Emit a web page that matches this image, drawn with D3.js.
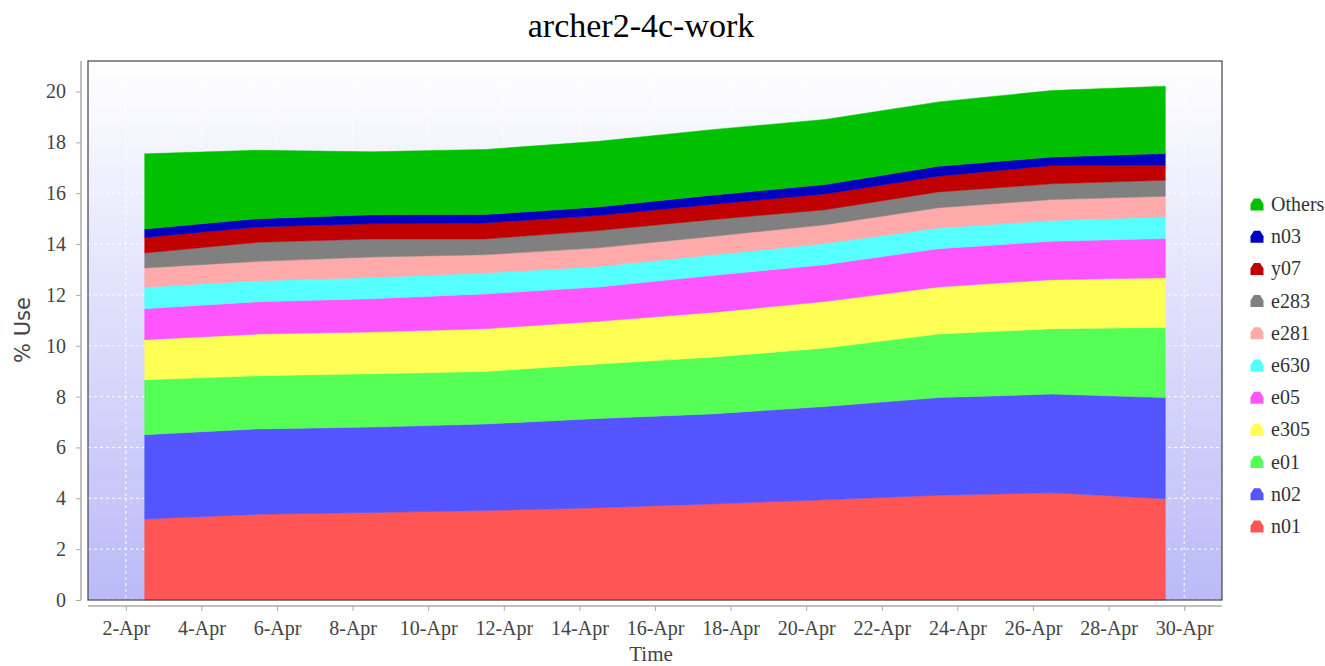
<!DOCTYPE html>
<html>
<head>
<meta charset="utf-8">
<script src="https://cdn.jsdelivr.net/npm/d3@7"></script>
<style>
  body { margin: 0; background: #fff; }
  svg text { font-family: "Liberation Serif", "Times New Roman", serif; }
</style>
</head>
<body>
<div class="chart"></div>
<script>
// sample dates, every 3 days from 2-Apr noon
const dates = ["2021-04-02T12:00", "2021-04-05T12:00", "2021-04-08T12:00", "2021-04-11T12:00", "2021-04-14T12:00",
  "2021-04-17T12:00", "2021-04-20T12:00", "2021-04-23T12:00", "2021-04-26T12:00", "2021-04-29T12:00"];

// stack order bottom -> top
const seriesNames = ["n01", "n02", "e01", "e305", "e05", "e630", "e281", "e283", "y07", "n03", "Others"];
const seriesColors = ["#ff5555", "#5555ff", "#55ff55", "#ffff55", "#ff55ff", "#55ffff", "#ffaaaa", "#808080", "#c00000", "#0000c0", "#00c000"];

const n01 = [3.19, 3.37, 3.44, 3.52, 3.63, 3.78, 3.94, 4.12, 4.22, 3.98];
const n02 = [3.31, 3.36, 3.36, 3.40, 3.51, 3.54, 3.67, 3.84, 3.88, 3.98];
const e01 = [2.16, 2.09, 2.10, 2.07, 2.14, 2.23, 2.30, 2.50, 2.57, 2.76];
const e305 = [1.58, 1.64, 1.64, 1.68, 1.68, 1.76, 1.83, 1.85, 1.93, 1.95];
const e05 = [1.22, 1.27, 1.31, 1.37, 1.35, 1.45, 1.45, 1.51, 1.51, 1.55];
const e630 = [0.84, 0.83, 0.83, 0.82, 0.81, 0.81, 0.83, 0.81, 0.82, 0.85];
const e281 = [0.76, 0.76, 0.81, 0.72, 0.73, 0.73, 0.74, 0.80, 0.82, 0.81];
const e283 = [0.59, 0.75, 0.71, 0.62, 0.68, 0.66, 0.59, 0.62, 0.62, 0.63];
const y07 = [0.61, 0.60, 0.60, 0.63, 0.59, 0.60, 0.62, 0.62, 0.72, 0.59];
const n03 = [0.33, 0.33, 0.35, 0.33, 0.34, 0.36, 0.37, 0.39, 0.33, 0.46];
const others = [2.96, 2.69, 2.48, 2.56, 2.58, 2.58, 2.56, 2.53, 2.62, 2.65];

const yTicks = [0, 2, 4, 6, 8, 10, 12, 14, 16, 18, 20];

const seriesValues = [n01, n02, e01, e305, e05, e630, e281, e283, y07, n03, others];

const width = 1325, height = 666;
const plot = {left: 88, right: 1222, top: 61, bottom: 600};
const serif = "'Liberation Serif', 'Times New Roman', serif";

const parse = d3.timeParse("%Y-%m-%dT%H:%M");
const data = dates.map((d, i) => {
  const row = {date: parse(d)};
  seriesNames.forEach((s, j) => row[s] = seriesValues[j][i]);
  return row;
});

const svg = d3.select('.chart')
  .append('svg')
  .attr('width', width)
  .attr('height', height);

//scales
const xScale = d3.scaleTime()
  .domain([new Date(2021, 3, 1), new Date(2021, 4, 1)])
  .range([plot.left, plot.right]);

const yScale = d3.scaleLinear()
  .domain([0, 21.2])
  .range([plot.bottom, plot.top]);

//background gradient
const grad = svg.append("defs").append("linearGradient")
  .attr("id", "bg").attr("x1", 0).attr("y1", 0).attr("x2", 0).attr("y2", 1);
grad.append("stop").attr("offset", "0%").attr("stop-color", "#ffffff");
grad.append("stop").attr("offset", "100%").attr("stop-color", "#babaf8");

svg.append("rect")
  .attr("x", plot.left).attr("y", plot.top)
  .attr("width", plot.right - plot.left).attr("height", plot.bottom - plot.top)
  .attr("fill", "url(#bg)");

//grid, ticks on even days
const xTickDates = d3.range(2, 31, 2).map(d => new Date(2021, 3, d));

svg.append("g")
  .selectAll("line")
  .data(xTickDates)
  .join("line")
  .attr("x1", d => xScale(d)).attr("x2", d => xScale(d))
  .attr("y1", plot.top).attr("y2", plot.bottom)
  .attr("stroke", "#fff").attr("stroke-dasharray", "3,3").attr("stroke-width", 1);

svg.append("g")
  .selectAll("line")
  .data(yTicks)
  .join("line")
  .attr("x1", plot.left).attr("x2", plot.right)
  .attr("y1", d => yScale(d)).attr("y2", d => yScale(d))
  .attr("stroke", "#fff").attr("stroke-dasharray", "3,3").attr("stroke-width", 1);

//stacked areas
const stack = d3.stack().keys(seriesNames);
const layers = stack(data);

const area = d3.area()
  .x(d => xScale(d.data.date))
  .y0(d => yScale(d[0]))
  .y1(d => yScale(d[1]));

svg.append("g")
  .selectAll("path")
  .data(layers)
  .join("path")
  .attr("fill", (d, i) => seriesColors[i])
  .attr("stroke", (d, i) => seriesColors[i])
  .attr("stroke-width", 0.5)
  .attr("d", area);

//plot border
svg.append("rect")
  .attr("x", plot.left).attr("y", plot.top)
  .attr("width", plot.right - plot.left).attr("height", plot.bottom - plot.top)
  .attr("fill", "none").attr("stroke", "#444").attr("stroke-width", 1.2);

//x axis
const xAxis = svg.append("g")
  .attr("transform", `translate(0,${plot.bottom + 6})`)
  .call(d3.axisBottom(xScale).tickValues(xTickDates).tickFormat(d3.timeFormat("%-d-%b")).tickSize(5).tickPadding(10));
xAxis.select(".domain").attr("stroke", "#aaa").attr("stroke-width", 1.5).attr("d", `M${plot.left},0H${plot.right}`);
xAxis.selectAll(".tick line").attr("stroke", "#aaa");
xAxis.selectAll("text")
  .style("font-family", serif)
  .attr("font-size", 20).attr("fill", "#444");

//y axis
const yAxis = svg.append("g")
  .attr("transform", `translate(${plot.left - 7},0)`)
  .call(d3.axisLeft(yScale).tickValues(yTicks).tickSize(5).tickPadding(10));
yAxis.select(".domain").attr("stroke", "#aaa").attr("stroke-width", 1.5).attr("d", `M0,${plot.top}V${plot.bottom}`);
yAxis.selectAll(".tick line").attr("stroke", "#aaa");
yAxis.selectAll("text")
  .style("font-family", serif)
  .attr("font-size", 20).attr("fill", "#444");

//title and axis names
svg.append("text")
  .attr("x", 641).attr("y", 37)
  .attr("text-anchor", "middle")
  .style("font-family", serif)
  .attr("font-size", 34).attr("fill", "#000")
  .text("archer2-4c-work");

svg.append("text")
  .attr("x", 651).attr("y", 661)
  .attr("text-anchor", "middle")
  .style("font-family", serif)
  .attr("font-size", 21).attr("fill", "#444")
  .text("Time");

svg.append("text")
  .attr("transform", "translate(30,330) rotate(-90)")
  .attr("text-anchor", "middle")
  .style("font-family", "'DejaVu Sans', sans-serif")
  .attr("font-size", 21).attr("fill", "#444")
  .text("% Use");

//legend, top entry is the top layer
const legendRows = seriesNames.map((s, i) => ({name: s, color: seriesColors[i]})).reverse();
const legend = svg.append("g")
  .selectAll("g")
  .data(legendRows)
  .join("g")
  .attr("transform", (d, i) => `translate(1257,${204 + i * 32.2})`);

legend.append("path")
  .attr("d", "M-6.5,6.5L-6.5,0L-3,-5.5L3,-5.5L6.5,0L6.5,6.5Z")
  .attr("fill", d => d.color);

legend.append("text")
  .attr("x", 14).attr("y", 7)
  .style("font-family", serif)
  .attr("font-size", 20).attr("fill", "#333")
  .text(d => d.name);
</script>
</body>
</html>
